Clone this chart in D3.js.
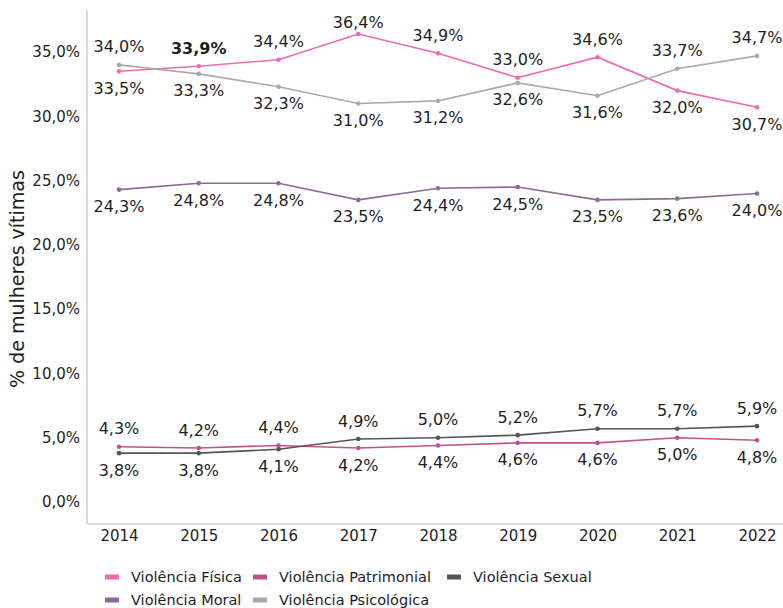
<!DOCTYPE html>
<html>
  <head>
    <meta charset="utf-8" />
    <title>Violência contra mulheres</title>
    <style>
      body { margin: 0; background: #fff; }
      text { font-family: "DejaVu Sans", sans-serif; fill: #1e1e1e; }
    </style>
  </head>
  <body>
  <div id="container"></div>
  <script src="https://cdn.jsdelivr.net/npm/d3@7"></script>
  <script type="text/javascript">

    var years = [2014, 2015, 2016, 2017, 2018, 2019, 2020, 2021, 2022];
    var fisica = [33.5, 33.9, 34.4, 36.4, 34.9, 33.0, 34.6, 32.0, 30.7];
    var psicologica = [34.0, 33.3, 32.3, 31.0, 31.2, 32.6, 31.6, 33.7, 34.7];
    var moral = [24.3, 24.8, 24.8, 23.5, 24.4, 24.5, 23.5, 23.6, 24.0];
    var patrimonial = [4.3, 4.2, 4.4, 4.2, 4.4, 4.6, 4.6, 5.0, 4.8];
    var sexual = [3.8, 3.8, 4.1, 4.9, 5.0, 5.2, 5.7, 5.7, 5.9];
    var yTicks = [0, 5, 10, 15, 20, 25, 30, 35];

    var series = [
      {name: 'Violência Física', values: fisica, color: '#ef6aae', pair: psicologica},
      {name: 'Violência Patrimonial', values: patrimonial, color: '#c0538c', pair: sexual},
      {name: 'Violência Sexual', values: sexual, color: '#555555', pair: patrimonial},
      {name: 'Violência Moral', values: moral, color: '#8d6c94', pair: null},
      {name: 'Violência Psicológica', values: psicologica, color: '#ababab', pair: fisica}
    ];

    var width = 783, height = 608;
    var plotLeft = 87, plotRight = 783, plotTop = 10, plotBottom = 524;

    var svg = d3.select('#container').append('svg')
      .attr('width', width).attr('height', height);

    var x = d3.scalePoint().domain(years).range([119, 757]);
    var y = d3.scaleLinear().domain([-1.71, 38.27]).range([plotBottom, plotTop]);

    var fmt = function(v){ return d3.format('.1f')(v).replace('.', ',') + '%'; };

    // frame lines
    svg.append('line').attr('x1', plotLeft).attr('x2', plotLeft).attr('y1', plotTop).attr('y2', plotBottom)
      .attr('stroke', '#cfcfcf').attr('stroke-width', 1.5);
    svg.append('line').attr('x1', plotLeft).attr('x2', plotRight).attr('y1', plotBottom).attr('y2', plotBottom)
      .attr('stroke', '#cfcfcf').attr('stroke-width', 1.5);

    // y axis labels
    var yAxis = d3.axisLeft(y).tickValues(yTicks).tickSize(0).tickPadding(7).tickFormat(fmt);
    var gy = svg.append('g').attr('transform', 'translate(' + plotLeft + ',0)').call(yAxis);
    gy.select('.domain').remove();
    gy.selectAll('text').style('font-size', '15px').style('font-family', '"DejaVu Sans", sans-serif').attr('fill', '#1e1e1e');

    // x axis labels
    var xAxis = d3.axisBottom(x).tickSize(0).tickPadding(6);
    var gx = svg.append('g').attr('transform', 'translate(0,' + plotBottom + ')').call(xAxis);
    gx.select('.domain').remove();
    gx.selectAll('text').style('font-size', '15px').style('font-family', '"DejaVu Sans", sans-serif').attr('fill', '#1e1e1e');

    // axis title
    svg.append('text')
      .attr('transform', 'translate(24,' + ((plotTop + plotBottom) / 2 + 12) + ') rotate(-90)')
      .attr('text-anchor', 'middle')
      .style('font-size', '19px')
      .text('% de mulheres vítimas');

    var line = d3.line()
      .x(function(d, i){ return x(years[i]); })
      .y(function(d){ return y(d); });

    series.forEach(function(s){
      svg.append('path').datum(s.values)
        .attr('d', line).attr('fill', 'none')
        .attr('stroke', s.color).attr('stroke-width', 1.6);
      svg.selectAll(null).data(s.values).enter().append('circle')
        .attr('cx', function(d, i){ return x(years[i]); })
        .attr('cy', function(d){ return y(d); })
        .attr('r', 2.3).attr('fill', s.color);
    });

    // data labels: upper of each pair above, lower below
    series.forEach(function(s){
      svg.selectAll(null).data(s.values).enter().append('text')
        .attr('x', function(d, i){ return x(years[i]); })
        .attr('y', function(d, i){
          var above = s.pair && d >= s.pair[i];
          var ly = above ? y(d) - 18 : y(d) + 17;
          return Math.max(ly, 22);
        })
        .attr('dy', '0.35em')
        .attr('text-anchor', 'middle')
        .style('font-size', '16px')
        .style('font-weight', function(d, i){ return (s.values === fisica && i === 1) ? 'bold' : 'normal'; })
        .text(fmt);
    });

    // legend
    var legendPos = [[105, 577], [253, 577], [447, 577], [105, 600], [253, 600]];
    series.forEach(function(s, i){
      var g = svg.append('g').attr('transform', 'translate(' + legendPos[i][0] + ',' + legendPos[i][1] + ')');
      g.append('rect').attr('x', 0).attr('y', -2.5).attr('width', 14).attr('height', 5).attr('fill', s.color);
      g.append('text').attr('x', 26).attr('dy', '0.35em').style('font-size', '14.5px').text(s.name);
    });

  </script>
  </body>
</html>
